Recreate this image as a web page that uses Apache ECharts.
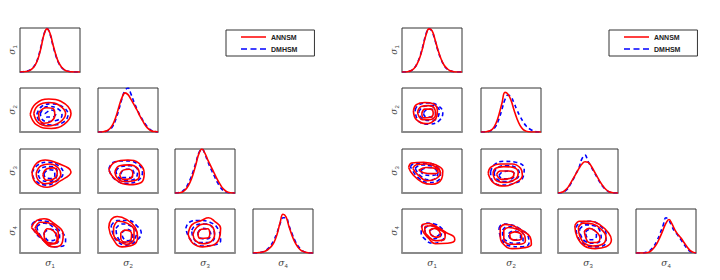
<!DOCTYPE html>
<html><head><meta charset="utf-8">
<script src="https://cdn.jsdelivr.net/npm/echarts@6/dist/echarts.min.js"></script>
<style>html,body{margin:0;padding:0;background:#fff}#c{width:720px;height:280px}</style>
</head><body><div id="c"></div>
<script>
// ---------- data ----------
const seriesNames = ['ANNSM', 'DMHSM'];
const varLabels = ['1', '2', '3', '4'];
const gridX = [0,5,10,15,20,25,30,35,40,45,50,55,60,65,70,75,80,85,90,95,100];

// marginal densities (left plot)
const L11_ANNSM = [0,0.5,1,3,7,15,30,55,85,98,88,62,38,20,10,4,1.5,0.5,0,0,0];
const L11_DMHSM = [0,0.5,1.5,3.5,8,16,32,58,86,99,86,60,36,19,9,4,1.5,0.5,0,0,0];
const L22_ANNSM = [0,0,1,3,8,18,35,58,78,89,85,74,62,50,36,24,13,6,2,1,0];
const L22_DMHSM = [0,0,0.5,2,6,14,30,52,76,94,100,86,68,52,38,26,16,8,3,1,0];
const L33_ANNSM = [0,0,1,5,12,24,42,66,90,100,90,74,60,46,32,20,10,4,1,0,0];
const L33_DMHSM = [0,0.5,2,7,16,30,48,70,92,100,88,70,54,40,26,14,6,2,0.5,0,0];
const L44_ANNSM = [0,0.5,1,2,4,8,14,24,42,68,88,82,60,40,24,13,6,3,1,0,0];
const L44_DMHSM = [0,0,1,2,5,10,18,30,46,66,80,80,62,44,28,16,8,3,1,0,0];
// marginal densities (right plot)
const R11_ANNSM = [0,0,1,3,8,18,34,58,84,98,94,74,50,30,16,8,3,1,0,0,0];
const R11_DMHSM = [0,0,1,3,8,19,36,60,86,99,92,72,48,29,15,7,3,1,0,0,0];
const R22_ANNSM = [0,0,1,3,8,20,40,66,90,86,72,50,30,15,6,2,0.5,0,0,0,0];
const R22_DMHSM = [0,0,0.5,2,6,14,30,52,74,84,80,66,50,36,24,14,8,4,1,0,0];
const R33_ANNSM = [0,1,4,10,20,32,44,56,66,71,70,62,50,38,26,16,8,3,1,0,0];
const R33_DMHSM = [0,0.5,3,8,18,30,44,58,78,86,72,60,48,36,24,14,7,3,1,0,0];
const R44_ANNSM = [0,0,0,0,1,5,12,22,36,52,68,76,66,52,42,34,24,14,6,2,0];
const R44_DMHSM = [0,0,0,1,3,8,16,28,44,62,80,74,60,48,40,30,20,10,4,1,0];

// contour loops (left plot)
const L21_ANNSM = [
 [[17,40],[26,64],[48,75],[68,70],[85,42],[74,18],[52,8],[28,16]],
 [[23,42],[30,60],[48,67],[64,62],[76,42],[66,22],[46,14],[30,22]],
 [[31,44],[44,55],[56,52],[58,38],[52,24],[40,20],[32,30]]];
const L21_DMHSM = [
 [[28,40],[36,58],[52,64],[70,58],[80,40],[72,22],[52,16],[34,22]],
 [[34,42],[40,55],[48,58],[64,52],[70,38],[60,26],[44,24],[36,30]],
 [[42,42],[48,48],[52,50],[60,42],[54,34],[44,34]]];
const L31_ANNSM = [
 [[20,48],[28,68],[42,75],[62,68],[85,48],[68,28],[45,13],[26,24]],
 [[27,45],[35,62],[50,66],[63,58],[68,42],[58,26],[42,21],[30,30]],
 [[38,42],[45,55],[56,57],[62,45],[56,32],[44,29]]];
const L31_DMHSM = [
 [[20,46],[30,64],[48,70],[64,62],[72,46],[62,28],[44,18],[26,28]],
 [[30,45],[38,58],[52,60],[62,50],[60,34],[46,26],[34,32]],
 [[40,44],[48,53],[57,50],[58,40],[50,33],[42,36]]];
const L32_ANNSM = [
 [[18,52],[28,70],[50,75],[68,68],[77,45],[72,24],[52,19],[30,30]],
 [[28,48],[36,62],[52,64],[66,56],[69,40],[60,28],[42,26],[32,34]],
 [[36,42],[42,52],[52,54],[58,44],[54,33],[42,31]]];
const L32_DMHSM = [
 [[18,55],[26,70],[46,73],[66,66],[74,46],[66,28],[46,22],[26,34]],
 [[30,50],[38,60],[54,62],[66,52],[64,36],[48,28],[34,36]],
 [[38,44],[45,54],[55,54],[60,44],[54,35],[42,35]]];
const L41_ANNSM = [
 [[19,58],[28,74],[40,78],[56,68],[72,42],[68,18],[55,14],[34,36]],
 [[25,56],[34,70],[48,68],[64,44],[62,24],[50,20],[34,38]],
 [[40,44],[46,55],[56,50],[62,34],[56,22],[44,26]]];
const L41_DMHSM = [
 [[20,66],[30,74],[44,72],[62,56],[76,30],[72,16],[56,14],[38,30],[24,50]],
 [[28,60],[40,68],[54,60],[66,38],[60,22],[46,24],[32,44]],
 [[40,46],[50,54],[60,44],[58,30],[48,28],[42,36]]];
const L42_ANNSM = [
 [[18,58],[22,76],[32,83],[48,76],[62,58],[66,36],[58,18],[40,14],[24,34]],
 [[26,58],[34,72],[48,68],[60,52],[60,32],[48,20],[34,28],[26,42]],
 [[38,46],[46,52],[56,44],[54,28],[44,25],[38,34]]];
const L42_DMHSM = [
 [[22,62],[32,74],[50,74],[66,60],[72,46],[64,28],[48,18],[30,30]],
 [[30,56],[40,66],[54,62],[64,46],[58,28],[44,24],[32,38]],
 [[40,46],[48,54],[56,48],[58,36],[50,28],[42,34]]];
const L43_ANNSM = [
 [[22,42],[28,64],[44,74],[56,80],[66,72],[76,56],[74,34],[64,18],[46,14],[30,22]],
 [[30,42],[36,58],[48,66],[62,60],[66,42],[60,26],[46,21],[34,28]],
 [[38,44],[44,54],[54,55],[58,44],[54,34],[42,33]]];
const L43_DMHSM = [
 [[18,56],[24,70],[40,74],[58,70],[72,54],[76,28],[64,18],[44,16],[26,30]],
 [[28,52],[36,64],[52,66],[64,54],[66,36],[56,24],[40,24],[30,36]],
 [[38,46],[46,56],[56,52],[60,40],[52,32],[42,34]]];

// contour loops (right plot)
const R21_ANNSM = [
 [[19,48],[24,62],[38,67],[52,64],[59,48],[55,28],[40,19],[24,28]],
 [[26,46],[32,58],[44,60],[54,54],[56,40],[46,28],[34,28],[28,36]],
 [[33,42],[38,52],[48,52],[52,42],[46,33],[36,32]]];
const R21_DMHSM = [
 [[22,50],[28,62],[44,66],[60,60],[68,44],[62,26],[46,18],[28,24]],
 [[28,46],[36,58],[50,60],[62,50],[60,34],[48,26],[34,30]],
 [[36,44],[44,52],[54,50],[56,40],[48,34],[38,36]]];
const R31_ANNSM = [
 [[11,58],[16,68],[36,70],[56,64],[68,50],[66,32],[50,20],[34,24],[18,42]],
 [[18,56],[24,64],[40,66],[58,58],[64,46],[56,32],[42,28],[26,42]],
 [[28,52],[40,58],[56,56],[60,48],[50,44],[36,46]]];
const R31_DMHSM = [
 [[14,60],[22,68],[42,68],[58,60],[64,44],[60,28],[44,24],[26,36]],
 [[22,56],[32,64],[48,62],[60,52],[58,36],[44,30],[30,40]],
 [[32,52],[44,58],[56,54],[58,44],[46,40],[34,44]]];
const R32_ANNSM = [
 [[12,44],[16,58],[32,66],[52,66],[66,56],[69,40],[58,24],[40,16],[22,22]],
 [[20,44],[24,56],[38,60],[54,58],[62,46],[58,32],[42,24],[26,28]],
 [[26,42],[32,50],[46,50],[55,44],[50,34],[34,31]]];
const R32_DMHSM = [
 [[16,48],[22,64],[38,72],[58,70],[72,56],[70,36],[56,22],[34,18],[18,30]],
 [[22,46],[28,58],[42,62],[58,58],[64,44],[56,30],[40,26],[26,32]],
 [[30,40],[36,48],[48,50],[56,42],[50,32],[36,32]]];
const R41_ANNSM = [
 [[33,64],[44,67],[60,58],[74,46],[86,38],[88,30],[76,22],[56,21],[44,34],[34,52]],
 [[38,60],[48,62],[62,54],[72,42],[70,30],[56,28],[44,38],[38,50]],
 [[46,52],[54,56],[62,50],[64,40],[56,36],[48,42]]];
const R41_DMHSM = [
 [[32,58],[40,68],[54,66],[66,56],[72,42],[66,28],[50,22],[38,32],[32,46]],
 [[38,56],[46,62],[58,58],[66,46],[60,34],[48,32],[40,42]],
 [[46,50],[54,56],[62,50],[62,42],[54,38],[48,42]]];
const R42_ANNSM = [
 [[32,58],[40,65],[54,62],[70,50],[82,36],[84,20],[72,12],[52,10],[36,22],[32,40]],
 [[38,52],[46,58],[60,54],[72,42],[74,28],[64,20],[48,20],[38,32]],
 [[48,44],[56,48],[66,44],[68,34],[60,29],[50,32]]];
const R42_DMHSM = [
 [[30,56],[36,66],[50,64],[66,54],[78,40],[80,22],[66,14],[48,16],[34,32]],
 [[36,52],[44,60],[58,56],[70,44],[70,28],[56,22],[42,28],[36,40]],
 [[46,44],[54,50],[64,46],[66,36],[58,30],[48,34]]];
const R43_ANNSM = [
 [[28,62],[36,72],[54,72],[70,64],[84,46],[89,30],[80,14],[62,10],[44,16],[32,36]],
 [[34,58],[42,68],[58,66],[72,54],[80,36],[74,20],[58,16],[44,22],[36,40]],
 [[44,50],[52,56],[62,50],[70,34],[64,24],[52,24],[46,36]]];
const R43_DMHSM = [
 [[30,58],[38,70],[56,72],[70,62],[80,44],[80,24],[64,14],[44,20],[32,40]],
 [[36,54],[46,64],[60,62],[70,50],[72,32],[60,22],[46,26],[38,40]],
 [[46,48],[54,54],[62,50],[64,38],[56,30],[48,36]]];

// ---------- layout ----------
const sides = [
  {cols:[20,98,175,253], labX:12, legLeft:226,
   marg:{'11':[L11_ANNSM,L11_DMHSM],'22':[L22_ANNSM,L22_DMHSM],'33':[L33_ANNSM,L33_DMHSM],'44':[L44_ANNSM,L44_DMHSM]},
   pair:{'21':[L21_ANNSM,L21_DMHSM],'31':[L31_ANNSM,L31_DMHSM],'32':[L32_ANNSM,L32_DMHSM],'41':[L41_ANNSM,L41_DMHSM],'42':[L42_ANNSM,L42_DMHSM],'43':[L43_ANNSM,L43_DMHSM]}},
  {cols:[402,481,558,636], labX:394, legLeft:609,
   marg:{'11':[R11_ANNSM,R11_DMHSM],'22':[R22_ANNSM,R22_DMHSM],'33':[R33_ANNSM,R33_DMHSM],'44':[R44_ANNSM,R44_DMHSM]},
   pair:{'21':[R21_ANNSM,R21_DMHSM],'31':[R31_ANNSM,R31_DMHSM],'32':[R32_ANNSM,R32_DMHSM],'41':[R41_ANNSM,R41_DMHSM],'42':[R42_ANNSM,R42_DMHSM],'43':[R43_ANNSM,R43_DMHSM]}}
];
const rowsTop = [28,88,149,209];
const PW = 60, PH = 44;
const styles = [
  {color:'#ff0000', type:'solid'},
  {color:'#0000ff', type:[4,3]}
];
// legend glyphs: a thin line (solid / dashed) centred in an 25x8 box
const legendIcons = [
  'path://M0,0h0.01v0.01h-0.01zM0,3.2h25v1.6h-25zM25,8h-0.01v-0.01h0.01z',
  'path://M0,0h0.01v0.01h-0.01zM0,3.2h6v1.6h-6zM9.5,3.2h6v1.6h-6zM19,3.2h6v1.6h-6zM25,8h-0.01v-0.01h0.01z'
];

const grid = [], xAxis = [], yAxis = [], series = [], graphic = [], legend = [];
function addGrid(left, top){
  const gi = grid.length;
  grid.push({left:left, top:top, width:PW, height:PH, show:true, borderColor:'#333', borderWidth:1, backgroundColor:'#fff'});
  xAxis.push({type:'value', gridIndex:gi, min:0, max:100, axisLine:{show:true, onZero:false, lineStyle:{color:'#8a8a8a', width:2}}, axisTick:{show:false}, axisLabel:{show:false}, splitLine:{show:false}});
  yAxis.push({type:'value', gridIndex:gi, min:0, max:100, axisLine:{show:false}, axisTick:{show:false}, axisLabel:{show:false}, splitLine:{show:false}});
  return gi;
}
function lineSeries(gi, k, data){
  series.push({type:'line', name:seriesNames[k], xAxisIndex:gi, yAxisIndex:gi, data:data,
    symbol:'none', smooth:0.45, silent:true, z: k===0 ? 3 : 2,
    lineStyle:{color:styles[k].color, width:1.6, type:styles[k].type}, itemStyle:{color:styles[k].color}});
}
const sub = {a:{fontSize:9, fontFamily:'DejaVu Serif', fontStyle:'italic', fill:'#444'}, b:{fontSize:6, fontFamily:'Liberation Sans', fill:'#444', padding:[5,0,0,0]}};

sides.forEach(function(s){
  for (let r = 0; r < 4; r++){
    for (let c = 0; c <= r; c++){
      const gi = addGrid(s.cols[c], rowsTop[r]);
      const key = '' + (r+1) + (c+1);
      if (r === c){
        const m = s.marg[key];
        for (let k = 1; k >= 0; k--) lineSeries(gi, k, gridX.map(function(x,i){return [x, m[k][i]];}));
      } else {
        const p = s.pair[key];
        for (let k = 1; k >= 0; k--) p[k].forEach(function(loop){ lineSeries(gi, k, loop.concat([loop[0]])); });
      }
    }
    graphic.push({type:'text', x:s.labX, y:rowsTop[r]+PH/2, rotation:Math.PI/2,
      style:{text:'{a|σ}{b|'+varLabels[r]+'}', rich:sub, align:'center', verticalAlign:'middle'}});
  }
  for (let c = 0; c < 4; c++){
    graphic.push({type:'text', x:s.cols[c]+PW/2, y:263,
      style:{text:'{a|σ}{b|'+varLabels[c]+'}', rich:sub, align:'center', verticalAlign:'middle'}});
  }
  legend.push({left:s.legLeft, top:30, orient:'vertical',
    data:[{name:seriesNames[0], icon:legendIcons[0]}, {name:seriesNames[1], icon:legendIcons[1]}],
    itemWidth:25, itemHeight:8, itemGap:4,
    padding:[3,17,3,15], borderColor:'#333', borderWidth:1, backgroundColor:'#fff', selectedMode:false,
    textStyle:{fontSize:7, fontFamily:'Liberation Sans', color:'#222', fontWeight:'bold'}});
});

const chart = echarts.init(document.getElementById('c'), null, {renderer:'svg'});
chart.setOption({animation:false, backgroundColor:'#fff', grid:grid, xAxis:xAxis, yAxis:yAxis, series:series, legend:legend, graphic:graphic});
</script></body></html>
